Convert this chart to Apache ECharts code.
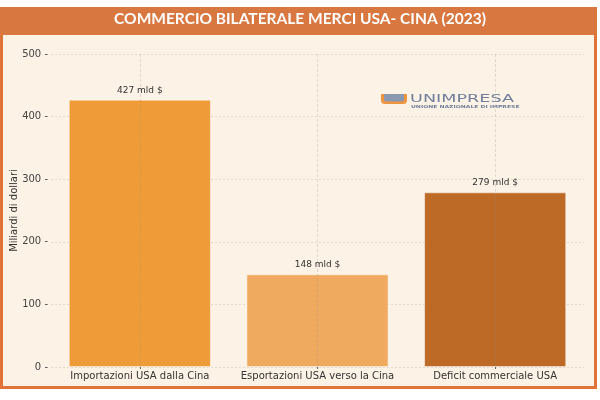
<!DOCTYPE html>
<html><head><meta charset="utf-8">
<script src="https://cdn.jsdelivr.net/npm/echarts@6/dist/echarts.min.js"></script>
<style>html,body{margin:0;padding:0;background:#fff}#c{width:600px;height:400px}</style>
</head><body><div id="c"></div>
<script>
const categories = ['Importazioni USA dalla Cina', 'Esportazioni USA verso la Cina', 'Deficit commerciale USA'];
const values = [427, 148, 279];
const barLabels = ['427 mld $', '148 mld $', '279 mld $'];
const barColors = ['#ef9b38', '#efaa60', '#bd6a26'];
const titleText = 'COMMERCIO BILATERALE MERCI USA- CINA (2023)';
const yAxisName = 'Miliardi di dollari';

const chart = echarts.init(document.getElementById('c'));
chart.setOption({
  animation: false,
  backgroundColor: '#ffffff',
  graphic: [
    { type: 'rect', z: -10, shape: { x: 1.5, y: 8.5, width: 594, height: 379 }, style: { fill: '#fdf2e6', stroke: '#e0733a', lineWidth: 3 } },
    { type: 'rect', z: -9, shape: { x: 0, y: 7, width: 597, height: 28 }, style: { fill: '#d97741' } },
    { type: 'text', z: 10, left: 'center', top: 11, style: { text: titleText, fill: '#ffffff', font: 'bold 15.5px Lato', textAlign: 'center' } },
    // logo
    { type: 'group', z: 5, left: 381, top: 94, children: [
      { type: 'rect', shape: { x: 0, y: 0, width: 26, height: 10, r: [0,0,4,4] }, style: { fill: '#ee9540' } },
      { type: 'rect', shape: { x: 3, y: 0, width: 20, height: 7.5, r: [0,0,2,2] }, style: { fill: '#8a98b0' } },
      { type: 'text', x: 29, y: 0, scaleX: 1.6, style: { x: 0, y: 0, text: 'UNIMPRESA', fill: '#6f7f9c', font: '11px "DejaVu Sans"' } },
      { type: 'text', x: 30, y: 11, scaleX: 1.5, style: { x: 0, y: 0, text: 'UNIONE NAZIONALE DI IMPRESE', fill: '#6f7f9c', font: 'bold 4px "DejaVu Sans"' } }
    ]}
  ],
  grid: { left: 51, right: 16, top: 54, bottom: 33, outerBoundsMode: 'none', containLabel: false },
  xAxis: {
    type: 'category',
    data: categories,
    axisLine: { show: false },
    axisTick: { show: true, alignWithLabel: true, length: 2, lineStyle: { color: '#666' } },
    axisLabel: { interval: 0, color: '#333', fontSize: 10, fontFamily: 'DejaVu Sans', margin: 4 },
    splitLine: { show: false }
  },
  yAxis: {
    type: 'value',
    min: 0, max: 500, interval: 100,
    name: yAxisName,
    nameLocation: 'middle',
    nameGap: 32,
    nameMoveOverlap: false,
    nameTextStyle: { color: '#333', fontSize: 10, fontFamily: 'DejaVu Sans' },
    axisLine: { show: false },
    axisTick: { show: false },
    axisLabel: { color: '#444', fontSize: 10, fontFamily: 'DejaVu Sans', margin: 3, formatter: v => v + ' -' },
    splitLine: { lineStyle: { color: '#e3d9ce', type: [2, 2], width: 1 } }
  },
  series: [{
    type: 'bar',
    barWidth: '80%',
    data: values.map((v, i) => ({ value: v, itemStyle: { color: barColors[i], borderColor: 'rgba(255,255,255,0.45)', borderWidth: 1 } })),
    label: {
      show: true, position: 'top', distance: 5,
      formatter: p => barLabels[p.dataIndex],
      color: '#333', fontSize: 9, fontFamily: 'DejaVu Sans'
    },
    markLine: {
      silent: true, symbol: 'none', label: { show: false },
      lineStyle: { color: 'rgba(140,140,140,0.25)', type: [3, 2], width: 1 },
      data: categories.map(c => ({ xAxis: c }))
    }
  }]
});
</script></body></html>
